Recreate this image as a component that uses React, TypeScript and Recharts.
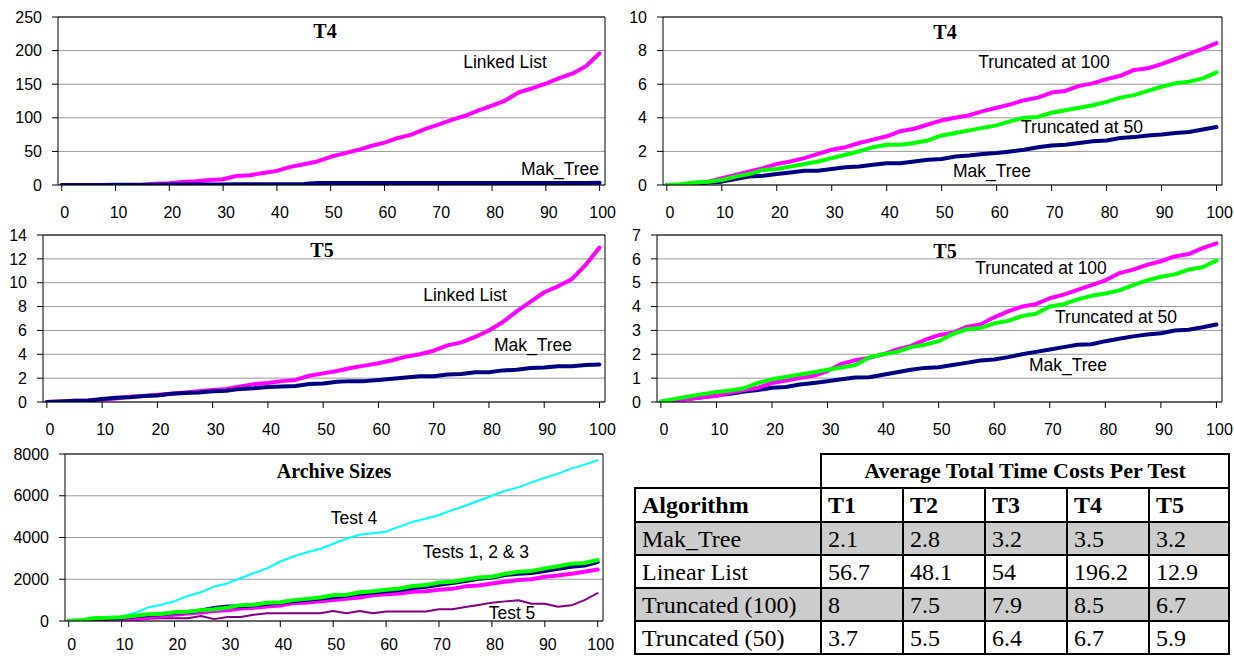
import { CartesianGrid, Line, LineChart, ReferenceLine, XAxis, YAxis } from 'recharts';

const SANS = '"Liberation Sans", Arial, sans-serif';
const SERIF = '"Liberation Serif", "Times New Roman", serif';

// test number (x) shared by every panel
const xSteps = [0, 2.5, 5, 7.5, 10, 12.5, 15, 17.5, 20, 22.5, 25, 27.5, 30, 32.5, 35, 37.5, 40, 42.5, 45, 47.5, 50, 52.5, 55, 57.5, 60, 62.5, 65, 67.5, 70, 72.5, 75, 77.5, 80, 82.5, 85, 87.5, 90, 92.5, 95, 97.5, 100];
const xTicks = [0, 10, 20, 30, 40, 50, 60, 70, 80, 90, 100];

// T4: linked list vs mak_tree
const t4Linked = [0, 0, 0, 0, 0, 0, 0.5, 2, 2.5, 4.5, 5.5, 7.5, 8.5, 13.5, 14.5, 18, 21, 27, 31, 35, 42, 47, 52, 58, 63, 70, 75, 83, 90, 97, 103, 111, 118, 126, 138, 144, 151, 159, 166, 177, 196];
const t4MakWide = [0, 0, 0, 0, 0.3, 0.4, 0.5, 0.5, 0.6, 0.7, 0.8, 0.8, 0.9, 1, 1, 1.1, 1.2, 1.3, 1.4, 3, 3, 3, 3, 3, 3, 3, 3, 3, 3, 3, 3, 3, 3, 3, 3, 3, 3, 3, 3, 3, 3.4];

// T4: truncated
const t4Trunc100 = [0, 0, 0.1, 0.2, 0.4, 0.6, 0.8, 1.0, 1.25, 1.4, 1.6, 1.85, 2.1, 2.25, 2.5, 2.7, 2.9, 3.2, 3.35, 3.6, 3.85, 4.0, 4.15, 4.4, 4.6, 4.8, 5.05, 5.2, 5.5, 5.6, 5.9, 6.05, 6.3, 6.5, 6.85, 6.95, 7.2, 7.5, 7.8, 8.1, 8.45];
const t4Trunc50 = [0, 0.05, 0.15, 0.2, 0.3, 0.5, 0.65, 0.9, 0.95, 1.1, 1.25, 1.4, 1.6, 1.8, 2.0, 2.25, 2.4, 2.4, 2.5, 2.65, 2.95, 3.1, 3.25, 3.4, 3.55, 3.8, 4.0, 4.05, 4.3, 4.45, 4.6, 4.75, 4.95, 5.2, 5.35, 5.6, 5.85, 6.05, 6.15, 6.35, 6.7];
const t4Mak = [0, 0, 0.05, 0.15, 0.2, 0.35, 0.5, 0.55, 0.65, 0.75, 0.85, 0.85, 0.95, 1.05, 1.1, 1.2, 1.3, 1.3, 1.4, 1.5, 1.55, 1.7, 1.75, 1.85, 1.9, 2.0, 2.1, 2.25, 2.35, 2.4, 2.5, 2.6, 2.65, 2.8, 2.85, 2.95, 3.0, 3.1, 3.15, 3.3, 3.45];

// T5: linked list vs mak_tree
const t5Linked = [0, 0.05, 0.1, 0.12, 0.2, 0.3, 0.45, 0.5, 0.6, 0.7, 0.8, 0.9, 1.0, 1.1, 1.3, 1.5, 1.6, 1.75, 1.85, 2.2, 2.4, 2.6, 2.85, 3.05, 3.25, 3.5, 3.8, 4.0, 4.3, 4.75, 5.0, 5.45, 6.0, 6.7, 7.6, 8.4, 9.2, 9.7, 10.3, 11.5, 12.95];
const t5MakWide = [0, 0.05, 0.1, 0.12, 0.25, 0.35, 0.4, 0.5, 0.55, 0.7, 0.75, 0.8, 0.9, 0.95, 1.1, 1.15, 1.25, 1.3, 1.35, 1.5, 1.55, 1.7, 1.75, 1.75, 1.85, 1.95, 2.05, 2.15, 2.15, 2.3, 2.35, 2.5, 2.5, 2.65, 2.7, 2.85, 2.9, 3.0, 3.0, 3.1, 3.15];

// T5: truncated
const t5Trunc100 = [0, 0.03, 0.13, 0.2, 0.25, 0.4, 0.5, 0.6, 0.8, 0.9, 1.0, 1.1, 1.3, 1.6, 1.75, 1.85, 2.0, 2.2, 2.35, 2.6, 2.8, 2.9, 3.15, 3.25, 3.55, 3.8, 4.0, 4.1, 4.35, 4.5, 4.7, 4.9, 5.1, 5.4, 5.55, 5.75, 5.9, 6.1, 6.2, 6.45, 6.65];
const t5Trunc50 = [0.02, 0.13, 0.23, 0.33, 0.42, 0.48, 0.58, 0.8, 0.95, 1.05, 1.15, 1.25, 1.35, 1.45, 1.55, 1.87, 2.0, 2.1, 2.3, 2.4, 2.55, 2.85, 3.05, 3.1, 3.3, 3.4, 3.6, 3.7, 4.0, 4.1, 4.3, 4.45, 4.55, 4.68, 4.9, 5.1, 5.25, 5.35, 5.55, 5.65, 5.93];
const t5Mak = [0, 0.05, 0.14, 0.2, 0.28, 0.35, 0.44, 0.5, 0.6, 0.63, 0.73, 0.8, 0.87, 0.95, 1.03, 1.04, 1.14, 1.25, 1.35, 1.43, 1.46, 1.55, 1.64, 1.74, 1.78, 1.88, 2.0, 2.1, 2.2, 2.3, 2.4, 2.42, 2.55, 2.65, 2.75, 2.83, 2.88, 3.0, 3.03, 3.13, 3.25];

// archive sizes
const archiveTest4 = [0, 0, 0, 70, 220, 380, 650, 780, 950, 1200, 1380, 1650, 1800, 2050, 2300, 2520, 2850, 3090, 3290, 3450, 3700, 3940, 4130, 4200, 4280, 4520, 4750, 4900, 5080, 5310, 5520, 5760, 6000, 6240, 6400, 6640, 6860, 7060, 7300, 7490, 7700];
const archiveTest1 = [0, 20, 80, 120, 160, 230, 290, 320, 390, 430, 500, 620, 690, 710, 760, 820, 880, 960, 1020, 1080, 1150, 1220, 1300, 1360, 1420, 1480, 1580, 1640, 1740, 1820, 1920, 2020, 2080, 2200, 2260, 2300, 2400, 2500, 2600, 2660, 2820];
const archiveTest2 = [0, 40, 140, 150, 180, 250, 320, 340, 420, 440, 520, 560, 640, 760, 780, 870, 900, 1000, 1060, 1130, 1230, 1260, 1380, 1420, 1500, 1560, 1680, 1720, 1840, 1880, 1990, 2080, 2120, 2260, 2360, 2400, 2520, 2620, 2740, 2780, 2920];
const archiveTest3 = [0, 0, 0, 20, 60, 100, 180, 230, 300, 360, 410, 480, 520, 600, 640, 700, 740, 860, 880, 940, 1000, 1060, 1120, 1230, 1280, 1320, 1400, 1420, 1500, 1540, 1660, 1700, 1800, 1880, 1960, 2000, 2120, 2180, 2260, 2360, 2470];
const archiveTest5 = [0, 0, 0, 0, 0, 50, 110, 130, 130, 130, 240, 90, 190, 190, 300, 370, 370, 370, 370, 370, 480, 370, 480, 370, 450, 450, 450, 460, 560, 560, 670, 770, 880, 940, 990, 830, 830, 680, 750, 1000, 1330];

// table
const algorithms = ['Mak_Tree', 'Linear List', 'Truncated (100)', 'Truncated (50)'];
const testNames = ['T1', 'T2', 'T3', 'T4', 'T5'];
const costMakTree = ['2.1', '2.8', '3.2', '3.5', '3.2'];
const costLinear = ['56.7', '48.1', '54', '196.2', '12.9'];
const costTrunc100 = ['8', '7.5', '7.9', '8.5', '6.7'];
const costTrunc50 = ['3.7', '5.5', '6.4', '6.7', '5.9'];
const costRows = [costMakTree, costLinear, costTrunc100, costTrunc50];

const MAGENTA = '#ff00ff';
const GREEN = '#00ff00';
const NAVY = '#000080';
const CYAN = '#00ffff';
const PURPLE = '#800080';

type Series = { key: string; values: number[]; color: string; width: number };
type Note = { text: string; x: number; y: number };

function Note({ text, x, y, title }: Note & { title?: boolean }) {
  return (
    <div
      style={{
        position: 'absolute',
        left: x,
        top: y,
        transform: 'translate(-50%, -50%)',
        whiteSpace: 'nowrap',
        fontFamily: title ? SERIF : SANS,
        fontWeight: title ? 700 : 400,
        fontSize: title ? 20 : 17.5,
        color: '#000',
        lineHeight: 1,
      }}
    >
      {text}
    </div>
  );
}

function Panel({
  box,
  plot,
  yMax,
  yTicks,
  series,
  title,
  notes,
  labelGap = 16,
}: {
  box: [number, number, number, number];
  plot: [number, number, number, number];
  yMax: number;
  yTicks: number[];
  series: Series[];
  title: Note;
  notes: Note[];
  labelGap?: number;
}) {
  const [bx, by, bw, bh] = box;
  const [pl, pt, pr, pb] = plot;
  const rows = xSteps.map((x, i) => {
    const r: Record<string, number> = { x };
    series.forEach((s) => (r[s.key] = s.values[i]));
    return r;
  });
  const tickStyle = { fill: '#000', fontSize: 16, fontFamily: SANS };

  return (
    <>
      <div style={{ position: 'absolute', left: bx, top: by, width: bw, height: bh }}>
        <LineChart
          width={bw}
          height={bh}
          data={rows}
          margin={{ top: pt - by, right: bx + bw - pr, bottom: 0, left: 0 }}
        >
          <CartesianGrid vertical={false} stroke="#999999" />
          <XAxis
            type="number"
            dataKey="x"
            domain={[-0.7, 101]}
            ticks={xTicks}
            height={by + bh - pb}
            tickSize={6}
            tickMargin={labelGap}
            stroke="#000"
            tick={{ ...tickStyle, dx: 3 }}
            allowDataOverflow
          />
          <YAxis
            type="number"
            domain={[0, yMax]}
            ticks={yTicks}
            width={pl - bx}
            tickSize={6}
            tickMargin={10}
            stroke="#000"
            tick={tickStyle}
            allowDataOverflow
          />
          <ReferenceLine y={yMax} stroke="#000" />
          <ReferenceLine x={101} stroke="#000" />
          {series.map((s) => (
            <Line
              key={s.key}
              dataKey={s.key}
              type="linear"
              stroke={s.color}
              strokeWidth={s.width}
              strokeLinejoin="round"
              strokeLinecap="round"
              dot={false}
              isAnimationActive={false}
            />
          ))}
        </LineChart>
      </div>
      <Note {...title} title />
      {notes.map((n) => (
        <Note key={n.text} {...n} />
      ))}
    </>
  );
}

function CostTable() {
  const border = '2px solid #000';
  const cell = { border, padding: '0 0 0 6px', textAlign: 'left' as const, verticalAlign: 'middle' as const };
  const colW = [186, 82, 82, 82, 82, 80];
  return (
    <table
      style={{
        position: 'absolute',
        left: 634,
        top: 453,
        width: 594,
        borderCollapse: 'collapse',
        tableLayout: 'fixed',
        fontFamily: SERIF,
        fontSize: 24,
        color: '#000',
        lineHeight: 1,
      }}
    >
      <colgroup>
        {colW.map((w, i) => (
          <col key={i} style={{ width: w }} />
        ))}
      </colgroup>
      <tbody>
        <tr style={{ height: 34 }}>
          <td style={{ border: 'none' }} />
          <td colSpan={5} style={{ ...cell, textAlign: 'center', fontWeight: 700, fontSize: 22, padding: 0 }}>
            Average Total Time Costs Per Test
          </td>
        </tr>
        <tr style={{ height: 34 }}>
          <td style={{ ...cell, fontWeight: 700 }}>Algorithm</td>
          {testNames.map((t) => (
            <td key={t} style={{ ...cell, fontWeight: 700 }}>
              {t}
            </td>
          ))}
        </tr>
        {algorithms.map((a, i) => (
          <tr key={a} style={{ height: 33, background: i % 2 === 0 ? '#cccccc' : '#ffffff' }}>
            <td style={cell}>{a}</td>
            {costRows[i].map((v, j) => (
              <td key={j} style={cell}>
                {v}
              </td>
            ))}
          </tr>
        ))}
      </tbody>
    </table>
  );
}

export default function App() {
  return (
    <div style={{ position: 'absolute', left: 0, top: 0, width: 1234, height: 656, background: '#fff', overflow: 'hidden' }}>
      <Panel
        box={[0, 0, 620, 225]}
        plot={[58, 17, 605, 185]}
        yMax={250}
        yTicks={[0, 50, 100, 150, 200, 250]}
        series={[
          { key: 'linked', values: t4Linked, color: MAGENTA, width: 4 },
          { key: 'mak', values: t4MakWide, color: NAVY, width: 4 },
        ]}
        title={{ text: 'T4', x: 325, y: 31 }}
        notes={[
          { text: 'Linked List', x: 505, y: 63 },
          { text: 'Mak_Tree', x: 560, y: 170 },
        ]}
      />
      <Panel
        box={[620, 0, 614, 225]}
        plot={[663, 17, 1222, 185]}
        yMax={10}
        yTicks={[0, 2, 4, 6, 8, 10]}
        series={[
          { key: 'mak', values: t4Mak, color: NAVY, width: 4 },
          { key: 't100', values: t4Trunc100, color: MAGENTA, width: 4 },
          { key: 't50', values: t4Trunc50, color: GREEN, width: 4 },
        ]}
        title={{ text: 'T4', x: 945, y: 32 }}
        notes={[
          { text: 'Truncated at 100', x: 1044, y: 63 },
          { text: 'Truncated at 50', x: 1082, y: 128 },
          { text: 'Mak_Tree', x: 992, y: 172 },
        ]}
      />
      <Panel
        box={[0, 225, 620, 220]}
        plot={[43, 235, 605, 402]}
        yMax={14}
        yTicks={[0, 2, 4, 6, 8, 10, 12, 14]}
        series={[
          { key: 'linked', values: t5Linked, color: MAGENTA, width: 4 },
          { key: 'mak', values: t5MakWide, color: NAVY, width: 4 },
        ]}
        title={{ text: 'T5', x: 322, y: 250 }}
        notes={[
          { text: 'Linked List', x: 465, y: 296 },
          { text: 'Mak_Tree', x: 533, y: 346 },
        ]}
      />
      <Panel
        box={[620, 225, 614, 220]}
        plot={[657, 235, 1222, 402]}
        yMax={7}
        yTicks={[0, 1, 2, 3, 4, 5, 6, 7]}
        series={[
          { key: 'mak', values: t5Mak, color: NAVY, width: 4 },
          { key: 't100', values: t5Trunc100, color: MAGENTA, width: 4 },
          { key: 't50', values: t5Trunc50, color: GREEN, width: 4 },
        ]}
        title={{ text: 'T5', x: 945, y: 251 }}
        notes={[
          { text: 'Truncated at 100', x: 1041, y: 269 },
          { text: 'Truncated at 50', x: 1116, y: 318 },
          { text: 'Mak_Tree', x: 1068, y: 366 },
        ]}
      />
      <Panel
        box={[0, 445, 620, 211]}
        plot={[65, 454, 603, 621]}
        yMax={8000}
        yTicks={[0, 2000, 4000, 6000, 8000]}
        labelGap={12}
        series={[
          { key: 'test5', values: archiveTest5, color: PURPLE, width: 2 },
          { key: 'test4', values: archiveTest4, color: CYAN, width: 2 },
          { key: 'test3', values: archiveTest3, color: MAGENTA, width: 4 },
          { key: 'test1', values: archiveTest1, color: NAVY, width: 4 },
          { key: 'test2', values: archiveTest2, color: GREEN, width: 4 },
        ]}
        title={{ text: 'Archive Sizes', x: 334, y: 471 }}
        notes={[
          { text: 'Test 4', x: 354, y: 519 },
          { text: 'Tests 1, 2 & 3', x: 476, y: 553 },
          { text: 'Test 5', x: 512, y: 614 },
        ]}
      />
      <CostTable />
    </div>
  );
}
